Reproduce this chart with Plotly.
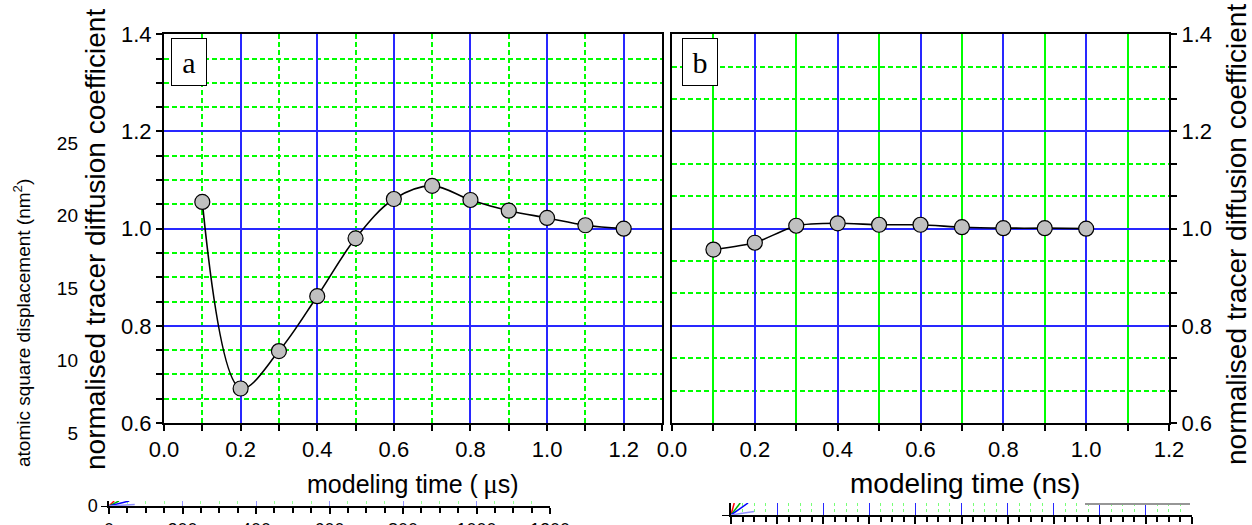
import plotly.graph_objects as go

W, H = 1252, 525


def px_x(x):
    return x / W


def px_y(y):
    return 1 - y / H


# ---------------- data ----------------
time_a_us = [0.1, 0.2, 0.3, 0.4, 0.5, 0.6, 0.7, 0.8, 0.9, 1.0, 1.1, 1.2]
d_norm_a = [1.055, 0.671, 0.748, 0.861, 0.980, 1.061, 1.088, 1.059, 1.037, 1.022, 1.007, 1.000]

time_b_ns = [0.1, 0.2, 0.3, 0.4, 0.5, 0.6, 0.7, 0.8, 0.9, 1.0]
d_norm_b = [0.957, 0.971, 1.006, 1.011, 1.008, 1.008, 1.003, 1.001, 1.001, 1.000]

x_tick_vals = [0.0, 0.2, 0.4, 0.6, 0.8, 1.0, 1.2]
x_tick_text = ["0.0", "0.2", "0.4", "0.6", "0.8", "1.0", "1.2"]
y_tick_vals = [0.6, 0.8, 1.0, 1.2, 1.4]
y_tick_text = ["0.6", "0.8", "1.0", "1.2", "1.4"]

msd_tick_vals = [5, 10, 15, 20, 25]
msd_tick_text = ["5", "10", "15", "20", "25"]

strip_left_ticks = [0, 200, 400, 600, 800, 1000, 1200]
strip_left_text = ["0", "200", "400", "600", "800", "1000", "1200"]

# little fan of curves at the origin of the clipped lower panels
fan_colors = ["#ff0000", "#00b000", "#0000ff", "#9090ff"]
fan_left_x_end = [14, 27, 55, 70]
fan_right_x_end = [0.07, 0.2, 0.37, 0.5]
fan_y_end = [100, 100, 100, 30]

BLUE = "rgb(40,40,255)"
GREEN = "rgb(0,255,0)"
FONT = "Liberation Sans, Arial, sans-serif"
SERIF = "Liberation Serif, Times New Roman, serif"

fig = go.Figure()

# panel a
fig.add_trace(go.Scatter(
    x=time_a_us, y=d_norm_a, mode="lines+markers",
    line=dict(color="black", width=1.6, shape="spline", smoothing=1.0),
    marker=dict(size=15, color="#c0c0c0", line=dict(color="black", width=1.2)),
    xaxis="x", yaxis="y", showlegend=False, cliponaxis=False,
))
# panel b
fig.add_trace(go.Scatter(
    x=time_b_ns, y=d_norm_b, mode="lines+markers",
    line=dict(color="black", width=1.6, shape="spline", smoothing=0.6),
    marker=dict(size=15, color="#c0c0c0", line=dict(color="black", width=1.2)),
    xaxis="x2", yaxis="y2", showlegend=False, cliponaxis=False,
))
# invisible trace holding the extra left (displacement) axis
fig.add_trace(go.Scatter(
    x=[0.5], y=[15], mode="markers", marker=dict(opacity=0),
    xaxis="x5", yaxis="y3", showlegend=False, hoverinfo="skip",
))
# clipped lower-left strip
for c, xe, ye in zip(fan_colors, fan_left_x_end, fan_y_end):
    fig.add_trace(go.Scatter(
        x=[0, xe], y=[0, ye], mode="lines", line=dict(color=c, width=1.5),
        xaxis="x6", yaxis="y6", showlegend=False, hoverinfo="skip",
    ))
# clipped lower-right strip
for c, xe, ye in zip(fan_colors, fan_right_x_end, fan_y_end):
    fig.add_trace(go.Scatter(
        x=[0, xe], y=[0, ye], mode="lines", line=dict(color=c, width=1.5),
        xaxis="x4", yaxis="y4", showlegend=False, hoverinfo="skip",
    ))

tickfont = dict(family=FONT, size=22, color="black")
titlefont = dict(family=FONT, size=28, color="black")

common_axis = dict(
    automargin=False,
    showline=True, linecolor="black", linewidth=2, mirror=True,
    ticks="outside", ticklen=6, tickwidth=1.5, tickcolor="black",
    showgrid=True, gridcolor=BLUE, gridwidth=1.5, zeroline=False,
    tickfont=tickfont, fixedrange=True, layer="above traces",
)


def minor(tick0, dtick, dash):
    return dict(tickmode="linear", tick0=tick0, dtick=dtick, ticks="outside", ticklen=6,
                tickwidth=1.5, tickcolor="black", showgrid=True, gridcolor=GREEN,
                gridwidth=2, griddash=dash)


fig.update_layout(
    template="none",
    width=W, height=H, autosize=False,
    margin=dict(l=0, r=0, t=0, b=0, pad=0),
    paper_bgcolor="white", plot_bgcolor="white",
    font=dict(family=FONT, color="black"),
    xaxis=dict(
        common_axis, domain=[px_x(164), px_x(662)], range=[0, 1.3], anchor="y",
        tickmode="array", tickvals=x_tick_vals, ticktext=x_tick_text,
        minor=minor(0, 0.1, "5px,3px"),
    ),
    yaxis=dict(
        common_axis, domain=[px_y(423), px_y(34.3)], range=[0.6, 1.4], anchor="x",
        tickmode="array", tickvals=y_tick_vals, ticktext=y_tick_text,
        minor=minor(0.6, 0.05, "5px,3px"),
    ),
    xaxis2=dict(
        common_axis, domain=[px_x(672), px_x(1169)], range=[0, 1.2], anchor="y2",
        tickmode="array", tickvals=x_tick_vals, ticktext=x_tick_text,
        minor=minor(0, 0.1, "solid"),
    ),
    yaxis2=dict(
        common_axis, domain=[px_y(423), px_y(34.3)], range=[0.6, 1.4], anchor="x2",
        side="right",
        tickmode="array", tickvals=y_tick_vals, ticktext=y_tick_text,
        minor=minor(0.6, 0.2 / 3, "5px,3px"),
    ),
    # extra left axis (atomic square displacement)
    xaxis5=dict(visible=False, domain=[0, 0.04], range=[0, 1], anchor="y3",
                fixedrange=True, automargin=False),
    yaxis3=dict(
        automargin=False,
        anchor="free", position=px_x(78), side="left",
        domain=[px_y(433), px_y(143)], range=[5, 25], autorange=False,
        tickmode="array", tickvals=msd_tick_vals, ticktext=msd_tick_text,
        showline=False, ticks="", showgrid=False, zeroline=False,
        tickfont=dict(family=FONT, size=19, color="black"), fixedrange=True,
    ),
    # clipped lower-left strip
    xaxis6=dict(
        automargin=False,
        domain=[px_x(109), px_x(550)], range=[0, 1200], anchor="y6",
        tickmode="array", tickvals=strip_left_ticks, ticktext=strip_left_text,
        showline=True, linecolor="black", linewidth=2, ticks="outside", ticklen=6,
        tickwidth=1.5, tickcolor="black", showgrid=True, gridcolor="rgb(150,150,255)", gridwidth=1,
        zeroline=False, tickfont=dict(family=FONT, size=18, color="black"),
        minor=dict(tickmode="linear", tick0=0, dtick=50, ticks="outside", ticklen=5,
                   tickwidth=1.5, tickcolor="black", showgrid=True,
                   gridcolor="rgb(150,255,150)", griddash="dot"),
        fixedrange=True,
    ),
    yaxis6=dict(
        automargin=False,
        domain=[px_y(506), px_y(501)], range=[0, 100], anchor="x6",
        tickmode="array", tickvals=[0], ticktext=["0"],
        showline=True, linecolor="black", linewidth=1.5, ticks="outside", ticklen=6,
        tickcolor="black", showgrid=False, zeroline=False,
        tickfont=dict(family=FONT, size=18, color="black"), fixedrange=True,
    ),
    # clipped lower-right strip
    xaxis4=dict(
        automargin=False,
        domain=[px_x(731), px_x(1192)], range=[0, 10], anchor="y4",
        tickmode="linear", tick0=0, dtick=1, showticklabels=False,
        showline=True, linecolor="black", linewidth=2, ticks="outside", ticklen=7,
        tickwidth=1.5, tickcolor="black", showgrid=True, gridcolor=BLUE, gridwidth=1,
        zeroline=False,
        minor=dict(tickmode="linear", tick0=0, dtick=0.25, ticks="outside", ticklen=5,
                   tickwidth=1.5, tickcolor="black", showgrid=True,
                   gridcolor="rgb(120,255,120)", griddash="dot"),
        fixedrange=True,
    ),
    yaxis4=dict(
        automargin=False,
        domain=[px_y(515), px_y(503)], range=[0, 100], anchor="x4",
        tickmode="array", tickvals=[0], ticktext=["0"],
        showline=True, linecolor="black", linewidth=1.5, ticks="outside", ticklen=7,
        tickcolor="black", showgrid=False, zeroline=False,
        tickfont=dict(family=FONT, size=18, color="black"), fixedrange=True,
    ),
)

# axis titles
fig.add_annotation(
    text="modeling time (<span style='font-family:Liberation Serif;font-size:27px'>&#8201;μ</span>s)",
    xref="paper", yref="paper",
    x=px_x(413), y=px_y(484), xanchor="center", yanchor="middle",
    showarrow=False, font=dict(family=FONT, size=25, color="black"),
)
fig.add_annotation(
    text="modeling time (ns)", xref="paper", yref="paper",
    x=px_x(965), y=px_y(483), xanchor="center", yanchor="middle",
    showarrow=False, font=titlefont,
)
fig.add_annotation(
    text="normalised tracer diffusion coefficient", xref="paper", yref="paper",
    x=px_x(96), y=px_y(240), xanchor="center", yanchor="middle", textangle=-90,
    showarrow=False, font=titlefont,
)
fig.add_annotation(
    text="normalised tracer diffusion coefficient", xref="paper", yref="paper",
    x=px_x(1237), y=px_y(235), xanchor="center", yanchor="middle", textangle=-90,
    showarrow=False, font=titlefont,
)
fig.add_annotation(
    text="atomic square displacement (nm<sup>2</sup>)", xref="paper", yref="paper",
    x=px_x(22), y=px_y(323), xanchor="center", yanchor="middle", textangle=-90,
    showarrow=False, font=dict(family=FONT, size=19, color="black"),
)

# panel letters
for letter, xa, ref in [("a", "x domain", (171 - 164) / 498), ("b", "x2 domain", (682 - 672) / 497)]:
    fig.add_annotation(
        text=letter, xref=xa, yref="paper", x=ref, y=px_y(38),
        xanchor="left", yanchor="top", showarrow=False,
        font=dict(family=SERIF, size=30, color="black"),
        bgcolor="white", bordercolor="black", borderwidth=1, borderpad=0,
        width=34, height=46,
    )

# top edge of a clipped legend frame in the lower-right strip
fig.add_shape(type="line", xref="paper", yref="paper",
              x0=px_x(1085), x1=px_x(1190), y0=px_y(504), y1=px_y(504),
              line=dict(color="rgb(150,150,150)", width=2))

fig.write_html("out.html")
